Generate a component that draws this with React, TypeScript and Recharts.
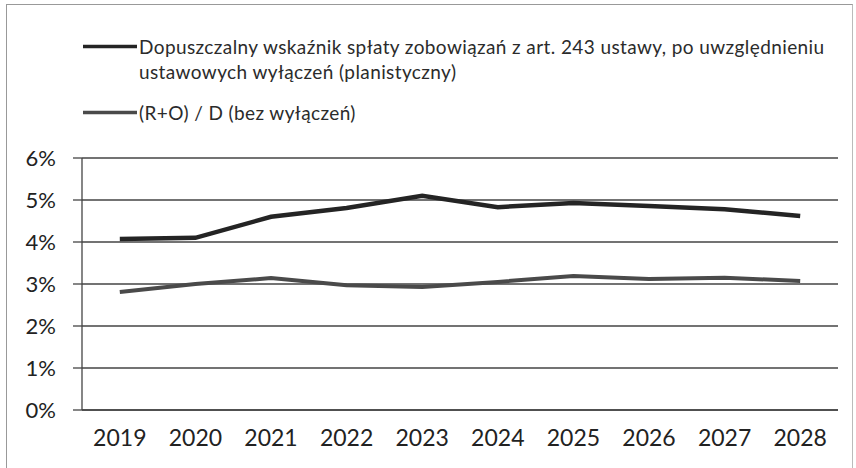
import { CartesianGrid, Line, LineChart, XAxis, YAxis } from 'recharts';

const years = ['2019', '2020', '2021', '2022', '2023', '2024', '2025', '2026', '2027', '2028'];
const limitValues = [4.07, 4.1, 4.6, 4.81, 5.1, 4.83, 4.93, 4.86, 4.78, 4.62];
const ratioValues = [2.81, 3.0, 3.14, 2.97, 2.93, 3.05, 3.19, 3.12, 3.15, 3.07];
const yTicks = [0, 1, 2, 3, 4, 5, 6];
const seriesNames = [
  'Dopuszczalny wskaźnik spłaty zobowiązań z art. 243 ustawy, po uwzględnieniu ustawowych wyłączeń (planistyczny)',
  '(R+O) / D (bez wyłączeń)',
];
const seriesColors = ['#242424', '#4a4a4a'];

const data = years.map((year, i) => ({ idx: i, year, limit: limitValues[i], ratio: ratioValues[i] }));
// Excel-style ticks sit between categories, labels sit on them
const boundaryTicks = [...years.map((_, i) => i - 0.5), years.length - 0.5];
const centerTicks = years.map((_, i) => i);
const xDomain = [-0.5, years.length - 0.5];

const font = 'Lato, "Liberation Sans", sans-serif';
const inkStroke = '#444';

function LegendBlock() {
  return (
    <div
      style={{
        position: 'absolute',
        left: 83,
        top: 34,
        fontFamily: font,
        fontSize: 19,
        letterSpacing: 0.4,
        color: '#2b2b2b',
      }}
    >
      {seriesNames.map((name, i) => (
        <div key={name} style={{ display: 'flex', alignItems: 'flex-start', marginBottom: 16 }}>
          <svg width={56} height={25} style={{ flex: 'none' }}>
            <line x1={0} x2={54} y1={12.5} y2={12.5} stroke={seriesColors[i]} strokeWidth={3.5} />
          </svg>
          <div style={{ width: 705, lineHeight: '25px' }}>{name}</div>
        </div>
      ))}
    </div>
  );
}

export default function App() {
  return (
    <div style={{ position: 'absolute', left: 0, top: 0, width: 856, height: 468, overflow: 'hidden', background: '#fff' }}>
      <div
        style={{
          position: 'absolute',
          left: 6,
          top: 4,
          width: 845,
          height: 480,
          borderTop: '1.5px solid #999',
          borderLeft: '1.5px solid #999',
          borderRight: '1.5px solid #bbb',
        }}
      />
      <LegendBlock />
      <div style={{ position: 'absolute', left: 0, top: 0 }}>
        <LineChart width={856} height={468} data={data} margin={{ top: 158, right: 18, left: 0, bottom: 0 }}>
          <CartesianGrid vertical={false} stroke={inkStroke} strokeWidth={1.3} />
          <XAxis
            dataKey="idx"
            type="number"
            domain={xDomain}
            ticks={boundaryTicks}
            interval={0}
            tick={false}
            tickSize={8}
            height={8}
            axisLine={{ stroke: inkStroke, strokeWidth: 1.3 }}
            tickLine={{ stroke: inkStroke, strokeWidth: 1.3 }}
          />
          <XAxis
            xAxisId="labels"
            dataKey="idx"
            type="number"
            domain={xDomain}
            ticks={centerTicks}
            interval={0}
            height={50}
            axisLine={false}
            tickLine={false}
            tickSize={6}
            tickMargin={6}
            tickFormatter={(v: number) => years[v]}
            tick={{ fill: '#222', fontSize: 23, fontFamily: font }}
          />
          <YAxis
            domain={[0, 6]}
            ticks={yTicks}
            interval={0}
            width={82}
            tickSize={9}
            tickMargin={17}
            tickFormatter={(v: number) => `${v}%`}
            tick={{ fill: '#222', fontSize: 22, fontFamily: font }}
            axisLine={{ stroke: inkStroke, strokeWidth: 1.3 }}
            tickLine={{ stroke: inkStroke, strokeWidth: 1.3 }}
          />
          <Line
            dataKey="limit"
            name={seriesNames[0]}
            stroke={seriesColors[0]}
            strokeWidth={4.5}
            dot={false}
            activeDot={false}
            isAnimationActive={false}
          />
          <Line
            dataKey="ratio"
            name={seriesNames[1]}
            stroke={seriesColors[1]}
            strokeWidth={4}
            dot={false}
            activeDot={false}
            isAnimationActive={false}
          />
        </LineChart>
      </div>
    </div>
  );
}
